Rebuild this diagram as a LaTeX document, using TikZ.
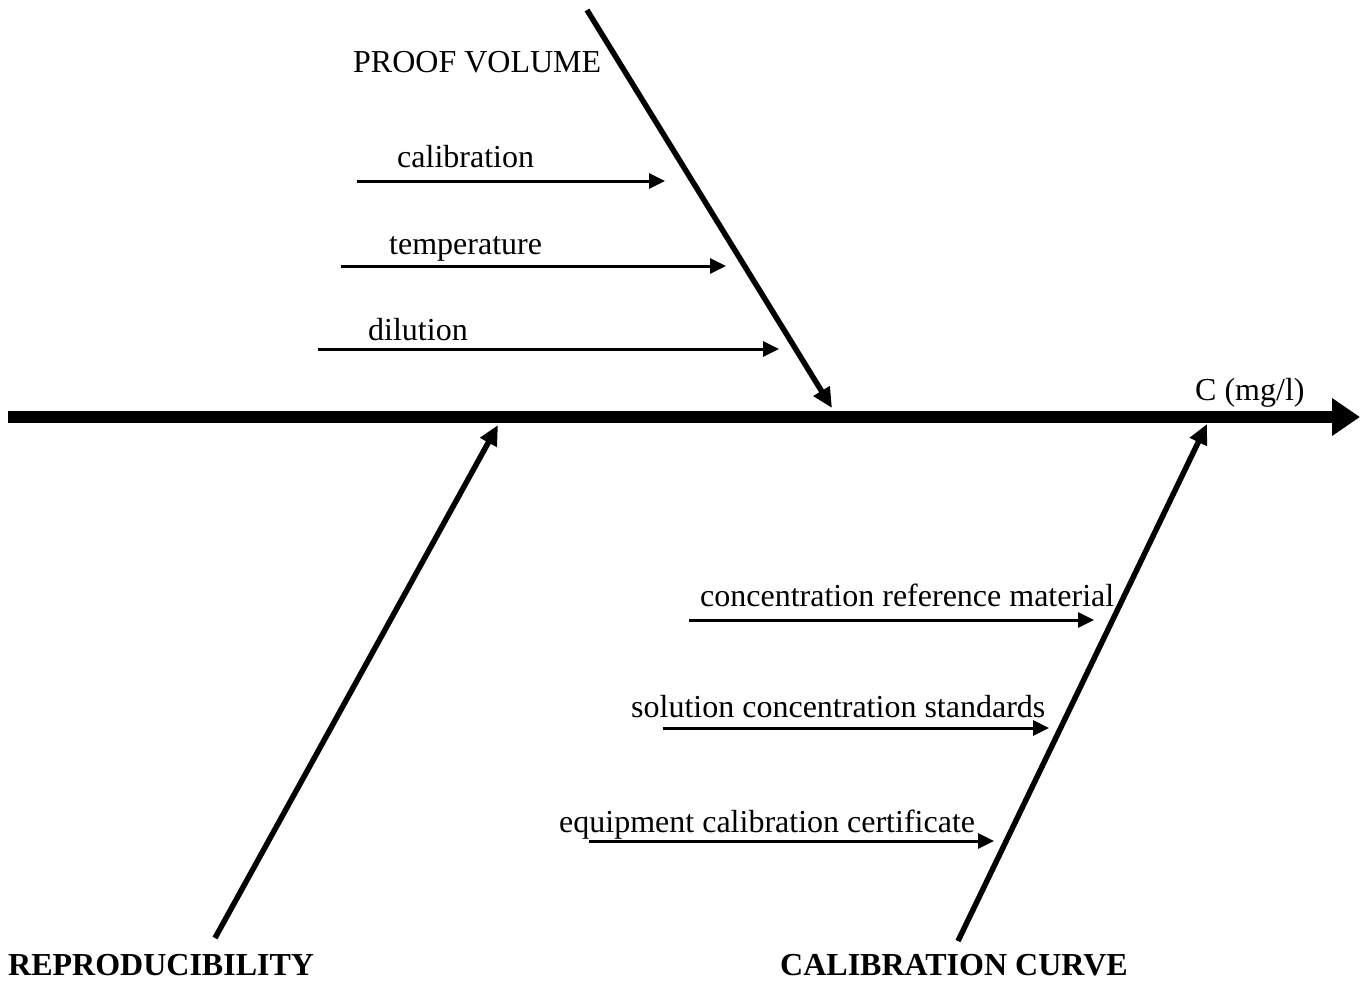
\documentclass[tikz,border=0pt]{standalone}
\usepackage{fontspec}
\setmainfont{Liberation Serif}
\usetikzlibrary{arrows.meta}
\begin{document}
\begin{tikzpicture}[x=1pt,y=-1pt,
  lbl/.style={inner sep=0pt,anchor=base west,font=\fontsize{32}{38}\selectfont},
  cat/.style={inner sep=0pt,anchor=base west,font=\fontsize{32}{38}\selectfont\bfseries},
  spine/.style={line width=12pt,-{Triangle[length=28pt,width=36pt]}},
  bone/.style={line width=5.5pt,-{Triangle[length=20pt,width=18pt]}},
  twig/.style={line width=3pt,-{Triangle[length=16pt,width=15pt]}}]
\useasboundingbox (0,0) rectangle (1360,980);
% spine
\coordinate (s0) at (8,417);
\coordinate (s1) at (1360,417);
\draw[spine] (s0) -- (s1);
\node[lbl] (eff) at (1195,400) {C (mg/l)};
% upper bone
\coordinate (u0) at (587,10);
\coordinate (u1) at (832,408);
\draw[bone] (u0) -- (u1);
\node[lbl] (pv) at (353,72) {PROOF VOLUME};
\node[lbl] (t1) at (397,167) {calibration};
\coordinate (a1s) at (357,181); \coordinate (a1e) at (665,181);
\draw[twig] (a1s) -- (a1e);
\node[lbl] (t2) at (389,254) {temperature};
\coordinate (a2s) at (341,266); \coordinate (a2e) at (726,266);
\draw[twig] (a2s) -- (a2e);
\node[lbl] (t3) at (368,340) {dilution};
\coordinate (a3s) at (318,349); \coordinate (a3e) at (779,349);
\draw[twig] (a3s) -- (a3e);
% lower left bone
\coordinate (l0) at (215,938);
\coordinate (l1) at (498,425);
\draw[bone] (l0) -- (l1);
\node[cat] (rep) at (8,975) {REPRODUCIBILITY};
% lower right bone
\coordinate (r0) at (958,941);
\coordinate (r1) at (1207,424);
\draw[bone] (r0) -- (r1);
\node[cat] (cc) at (780,975) {CALIBRATION CURVE};
\node[lbl] (t4) at (700,606) {concentration reference material};
\coordinate (b1s) at (689,620); \coordinate (b1e) at (1094,620);
\draw[twig] (b1s) -- (b1e);
\node[lbl] (t5) at (631,717) {solution concentration standards};
\coordinate (b2s) at (663,728); \coordinate (b2e) at (1049,728);
\draw[twig] (b2s) -- (b2e);
\node[lbl] (t6) at (559,832) {equipment calibration certificate};
\coordinate (b3s) at (589,841); \coordinate (b3e) at (994,841);
\draw[twig] (b3s) -- (b3e);
\end{tikzpicture}
\end{document}
